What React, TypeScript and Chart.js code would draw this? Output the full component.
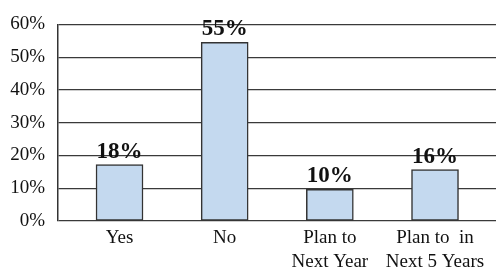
import React, { useEffect, useRef } from "react";
import { Chart, registerables } from "chart.js";

Chart.register(...registerables);

const categories: (string | string[])[] = ["Yes", "No", ["Plan to", "Next Year"], ["Plan to  in", "Next 5 Years"]];
const barValues: number[] = [17.2, 54.5, 9.7, 15.7];
const valueLabels: string[] = ["18%", "55%", "10%", "16%"];
const yTicks: number[] = [0, 10, 20, 30, 40, 50, 60];

const FONT = "'Liberation Serif', 'Times New Roman', serif";

const labelPlugin = {
  id: "valueLabels",
  afterDatasetsDraw(chart: any) {
    const ctx = chart.ctx;
    const meta = chart.getDatasetMeta(0);
    ctx.save();
    ctx.font = `bold 23px ${FONT}`;
    ctx.fillStyle = "#111";
    ctx.textAlign = "center";
    ctx.textBaseline = "alphabetic";
    meta.data.forEach((el: any, i: number) => {
      ctx.fillText(valueLabels[i], el.x, el.y - 7);
    });
    ctx.restore();
  },
};

export default function App() {
  const ref = useRef<HTMLCanvasElement>(null);
  useEffect(() => {
    if (!ref.current) return;
    const chart = new Chart(ref.current, {
      type: "bar",
      data: {
        datasets: [
          {
            data: barValues.map((v, i) => ({ x: i, y: v })),
            backgroundColor: "#c4d9ef",
            borderColor: "#333",
            borderWidth: 1.5,
            borderSkipped: false,
            barThickness: 47,
          },
        ],
      },
      options: {
        animation: false,
        responsive: false,
        maintainAspectRatio: false,
        layout: { padding: { top: 21, left: 0, right: 0, bottom: 0 } },
        plugins: { legend: { display: false }, tooltip: { enabled: false } },
        scales: {
          x: {
            type: "linear",
            offset: false,
            min: -0.585,
            max: 3.58,
            grid: { display: false, offset: false },
            border: { display: false },
            afterBuildTicks(scale: any) {
              scale.ticks = categories.map((_, i) => ({ value: i }));
            },
            afterFit(scale: any) {
              scale.height = 49;
            },
            ticks: {
              autoSkip: false,
              maxRotation: 0,
              padding: -3,
              color: "#111",
              font: { family: FONT, size: 19, lineHeight: 1.28 },
              callback: (v: any) => categories[Math.round(Number(v))] ?? "",
            },
          },
          y: {
            min: 0,
            max: 60,
            afterBuildTicks(scale: any) {
              scale.ticks = yTicks.map((v) => ({ value: v }));
            },
            afterFit(scale: any) {
              scale.width = 58;
            },
            grid: { color: "#3a3a3a", lineWidth: 1.3, drawTicks: false },
            border: { display: true, color: "#333", width: 1.5 },
            ticks: {
              padding: 13,
              color: "#111",
              font: { family: FONT, size: 19 },
              callback: (v: any) => `${v}%`,
            },
          },
        },
      },
      plugins: [labelPlugin],
    });
    return () => chart.destroy();
  }, []);
  return (
    <div style={{ position: "fixed", left: 0, top: 0, width: 496, height: 270, background: "#fff" }}>
      <canvas ref={ref} width={496} height={270} style={{ width: 496, height: 270 }} />
    </div>
  );
}
